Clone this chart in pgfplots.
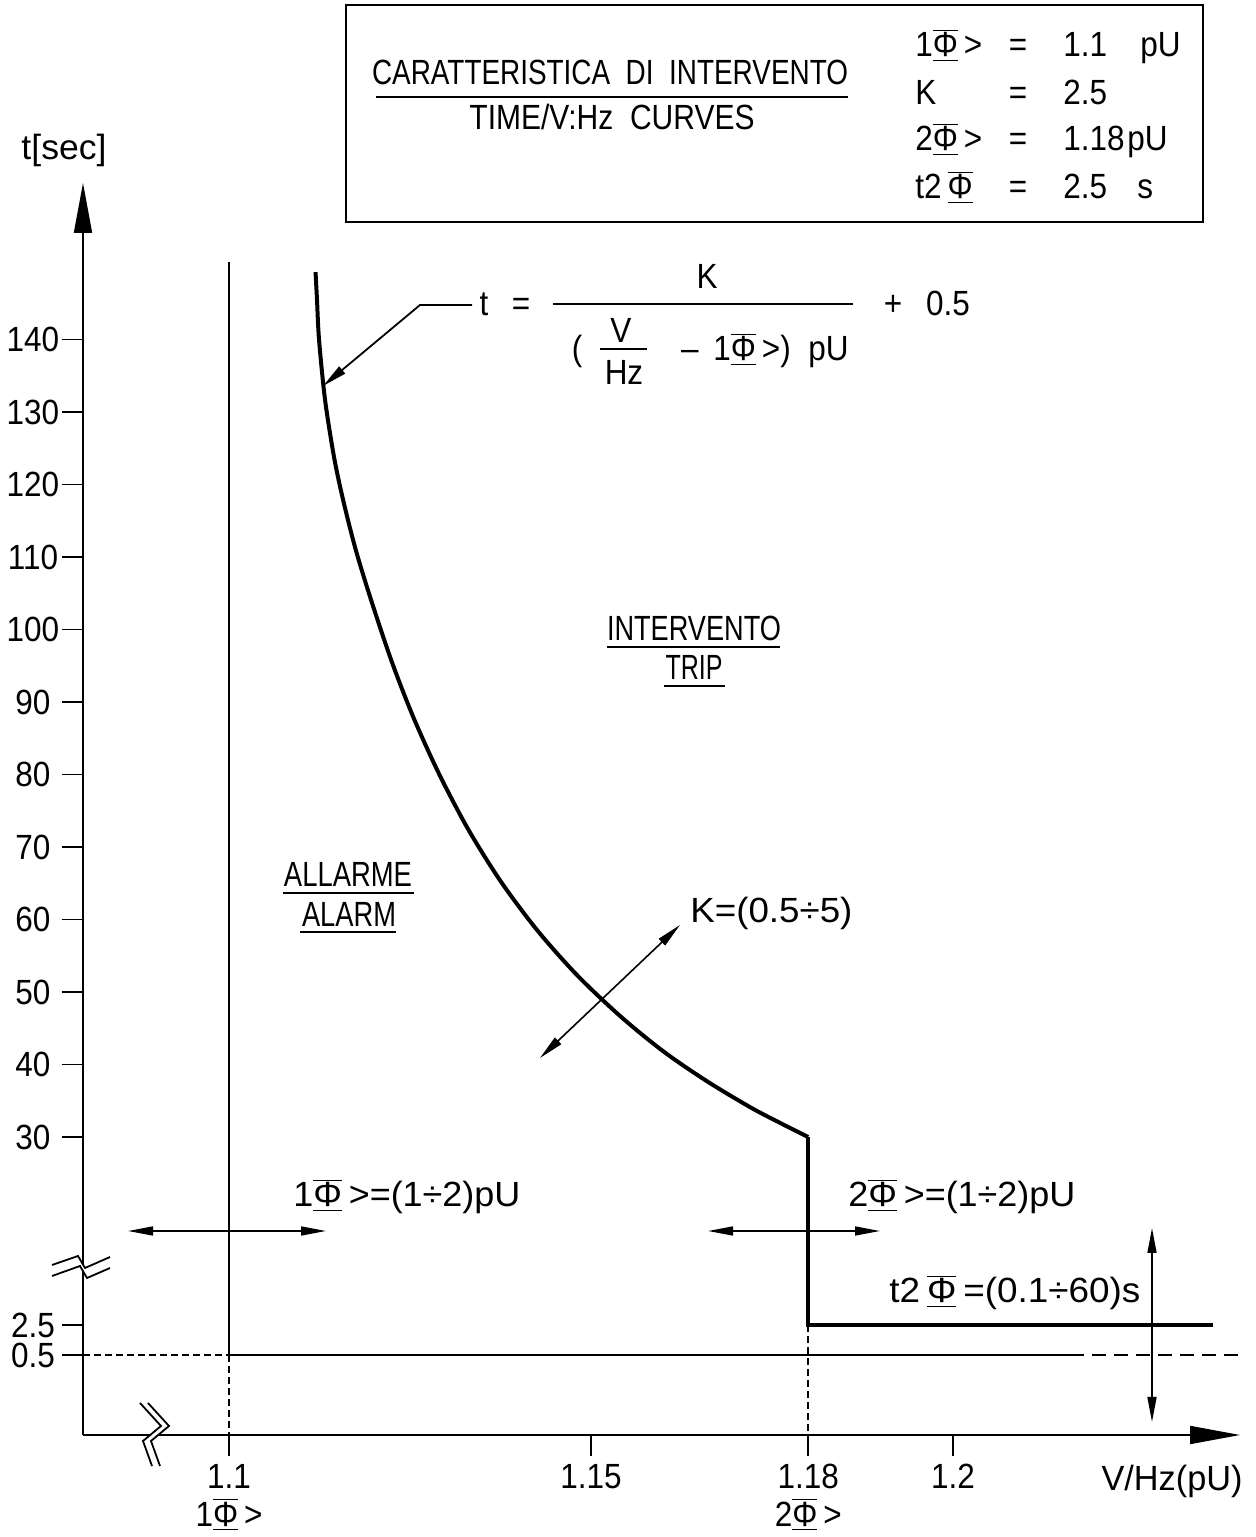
\documentclass[border=0pt]{standalone}
\usepackage{graphicx}
\usepackage{pgfplots}
\pgfplotsset{compat=1.18}
\usepackage{fontspec}
\setmainfont{Liberation Sans}[FakeStretch=0.9]
\usetikzlibrary{arrows.meta}

% flux symbol with the bars above and below
\newcommand\PHI{\underline{$\overline{\mbox{Φ}}$}}
% set a label to a given width, keeping its height
\newcommand\fitw[2]{\resizebox{#1}{\height}{#2}}

% V/Hz characteristic, t = K/(V/Hz - 1.1) + 0.5, K = 2.5 (drawn shape)
\pgfplotstableread{
x        t
1.11195  149.3
1.11215  145.5
1.11243  140.0
1.11326  131.7
1.11450  123.8
1.11575  117.9
1.11750  111.0
1.11961  104.1
1.12250  95.5
1.12550  87.8
1.12900  80.1
1.13300  72.5
1.13750  65.3
1.14250  58.6
1.14800  52.4
1.15400  46.7
1.16000  41.8
1.16600  37.7
1.17200  34.1
1.17600  32.0
1.18000  30.0
}\curve

\tikzset{
  harrow/.style={line width=0.8pt,
    {Triangle[length=12.5pt,width=4.5pt]}-{Triangle[length=12.5pt,width=4.5pt]}},
  lbl/.style={inner sep=0pt, anchor=base},
}

\begin{document}
\begin{tikzpicture}[font=\fontsize{17.5}{21}\selectfont]
\begin{axis}[
  x=3620pt, y=3.625pt,
  xmin=1.07983, xmax=1.23964,
  ymin=-4.833, ymax=161.59,
  % broken time axis: below the break 1 s takes 15 px instead of 7.25 px
  y coord trafo/.code={%
    \begingroup
    \pgfkeys{/pgf/fpu=true,/pgf/fpu/output format=fixed}%
    \pgfmathparse{(#1>=10)?(#1):(2.069*((#1)-0.5)-0.069)}%
    \xdef\brkY{\pgfmathresult}%
    \endgroup
    \let\pgfmathresult\brkY},
  axis x line=bottom, axis y line=left,
  axis line style={line width=0.9pt, black},
  x axis line style={-{Triangle[length=25pt,width=9pt]}},
  y axis line style={-{Triangle[length=25pt,width=9pt]}},
  clip=false,
  tick align=outside, major tick length=10.5pt,
  tick style={line width=0.9pt, black},
  xtick={1.1,1.15,1.18,1.2},
  xticklabels={{1.1\\1\PHI\,>},{1.15},{1.18\\2\PHI\,>},{1.2}},
  xticklabel style={align=center, anchor=north, inner sep=0pt, yshift=-4pt,
    font=\fontsize{17.5}{19}\selectfont},
  ytick={0.5,2.5,30,40,50,60,70,80,90,100,110,120,130,140},
  yticklabels={0.5,2.5,30,40,50,60,70,80,90,100,110,120,130,140},
  yticklabel style={anchor=center, inner sep=0pt, xshift=-14.5pt},
  /pgf/number format/assume math mode=true,
  every axis plot/.append style={black},
  no markers,
]
  % threshold lines
  \addplot[line width=0.9pt] coordinates {(1.1,150.69) (1.1,0.5)};
  \addplot[line width=0.9pt, dash pattern=on 3.5pt off 2pt] coordinates {(1.1,0.5) (1.1,-4.833)};
  \addplot[line width=0.9pt, dash pattern=on 3.5pt off 2pt] coordinates {(1.18,2.5) (1.18,-4.833)};
  \addplot[line width=0.9pt, dash pattern=on 3.5pt off 2pt] coordinates {(1.07983,0.5) (1.1,0.5)};
  \addplot[line width=0.9pt] coordinates {(1.1,0.5) (1.21620,0.5)};
  \addplot[line width=0.9pt, dash pattern=on 7pt off 4pt] coordinates {(1.21620,0.5) (1.2403,0.5)};
  % trip characteristic
  \addplot[line width=2pt, smooth, tension=0.5] table[x=x, y=t] {\curve};
  \addplot[line width=2pt] coordinates {(1.18,30) (1.18,2.5) (1.23591,2.5)};
  \coordinate (O) at (rel axis cs:0,0);
\end{axis}

\begin{scope}[shift={(O)}, x=0.5pt, y=-0.5pt, shift={(-83,-1435)}]
  % axis breaks
  \fill[white] (52,1265) -- (78,1256) -- (85,1268) -- (110,1257) -- (110,1268) -- (87,1278) -- (80,1266) -- (52,1276) -- cycle;
  \draw[line width=0.9pt] (52,1265) -- (78,1256) -- (85,1268) -- (110,1257);
  \draw[line width=0.9pt] (52,1276) -- (80,1266) -- (87,1278) -- (110,1268);
  \fill[white] (140,1403) -- (161,1426) -- (143,1441) -- (152,1466) -- (160,1466) -- (151,1441) -- (169,1426) -- (148,1403) -- cycle;
  \draw[line width=0.9pt] (140,1403) -- (161,1426) -- (143,1441) -- (152,1466);
  \draw[line width=0.9pt] (148,1403) -- (169,1426) -- (151,1441) -- (160,1466);

  % axis titles
  \node[lbl] at (64,160) {\fitw{42.5pt}{t[sec]}};
  \node[lbl] at (1172,1490) {\fitw{70.5pt}{V/Hz(pU)}};

  % title block
  \draw[line width=1pt] (346,5) rectangle (1203,222);
  \node[lbl] at (610,85) {\fitw{238pt}{CARATTERISTICA\ \ DI\ \ INTERVENTO}};
  \draw[line width=1pt] (376,97) -- (848,97);
  \node[lbl] at (612,130) {\fitw{142.5pt}{TIME/V:Hz\ \ CURVES}};
  \node[lbl, anchor=base west] at (915,57) {1\PHI\,>};
  \node[lbl] at (1018,57) {=};
  \node[lbl, anchor=base west] at (1063,57) {1.1};
  \node[lbl, anchor=base west] at (1140,57) {pU};
  \node[lbl, anchor=base west] at (915,105) {K};
  \node[lbl] at (1018,105) {=};
  \node[lbl, anchor=base west] at (1063,105) {2.5};
  \node[lbl, anchor=base west] at (915,151) {2\PHI\,>};
  \node[lbl] at (1018,151) {=};
  \node[lbl, anchor=base west] at (1063,151) {1.18};
  \node[lbl, anchor=base west] at (1127,151) {pU};
  \node[lbl, anchor=base west] at (915,199) {t2\,\PHI};
  \node[lbl] at (1018,199) {=};
  \node[lbl, anchor=base west] at (1063,199) {2.5};
  \node[lbl, anchor=base west] at (1137,199) {s};

  % formula of the curve
  \draw[line width=0.9pt, -{Triangle[length=12.5pt,width=4.5pt]}] (472,305) -- (420,305) -- (323,386);
  \node[lbl] at (484,316) {t};
  \node[lbl] at (521,316) {=};
  \draw[line width=0.9pt] (553,304) -- (853,304);
  \node[lbl] at (707,289) {K};
  \node[lbl] at (893,316) {+};
  \node[lbl] at (948,316) {0.5};
  \node[lbl] at (577,361) {(};
  \node[lbl] at (621,343) {V};
  \draw[line width=0.9pt] (600,349) -- (647,349);
  \node[lbl] at (624,385) {Hz};
  \node[lbl] at (690,361) {–};
  \node[lbl, anchor=base west] at (713,361) {1\PHI\,>)};
  \node[lbl, anchor=base west] at (808,361) {pU};

  % zones
  \node[lbl] at (694,641) {\fitw{87pt}{INTERVENTO}};
  \draw[line width=0.9pt] (607,647) -- (780,647);
  \node[lbl] at (694,680) {\fitw{28.5pt}{TRIP}};
  \draw[line width=0.9pt] (664,686) -- (725,686);
  \node[lbl] at (348,887) {\fitw{64pt}{ALLARME}};
  \draw[line width=0.9pt] (283,893) -- (414,893);
  \node[lbl] at (349,927) {\fitw{47pt}{ALARM}};
  \draw[line width=0.9pt] (300,932) -- (396,932);

  % setting ranges
  \draw[harrow] (540,1058) -- (680,925);
  \node[lbl, anchor=base west] at (690,923) {\fitw{81pt}{K=(0.5÷5)}};
  \draw[harrow] (128,1231) -- (326,1231);
  \node[lbl, anchor=base west] at (293,1207) {\fitw{113.5pt}{1\PHI\,>=(1÷2)pU}};
  \draw[harrow] (708,1231) -- (880,1231);
  \node[lbl, anchor=base west] at (848,1207) {\fitw{113.5pt}{2\PHI\,>=(1÷2)pU}};
  \draw[harrow] (1152,1228) -- (1152,1422);
  \node[lbl, anchor=base west] at (889,1303) {\fitw{125.5pt}{t2\,\PHI\,=(0.1÷60)s}};

  \pgfresetboundingbox
  \useasboundingbox (0,0) rectangle (1256,1537);
\end{scope}
\end{tikzpicture}
\end{document}
